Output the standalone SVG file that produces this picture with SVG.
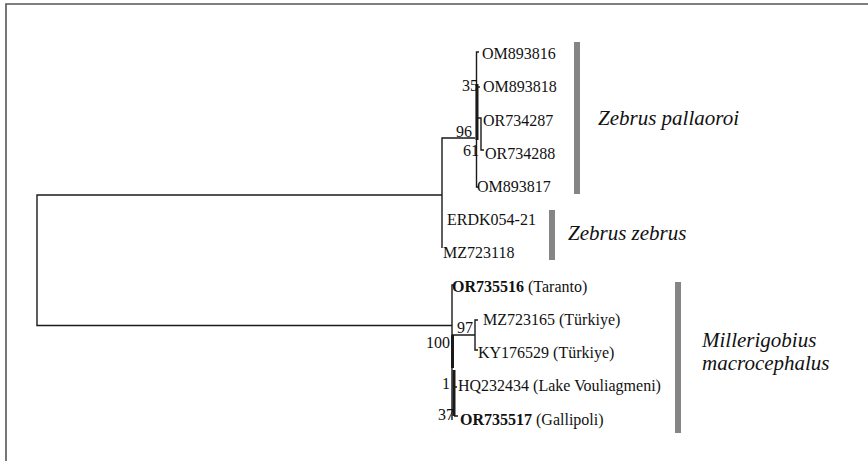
<svg xmlns="http://www.w3.org/2000/svg" width="868" height="461" viewBox="0 0 868 461">
<style>
.frame{stroke:#555;stroke-width:1.6;fill:none}
.br{stroke:#1a1a1a;stroke-width:1.4;fill:none}
.thick{stroke:#1a1a1a;stroke-width:3;fill:none}
.bar{fill:#858585}
.lf{font-family:"Liberation Serif","Times New Roman",serif;font-size:16px;fill:#111}
.bs{font-family:"Liberation Serif","Times New Roman",serif;font-size:16px;fill:#111;text-anchor:end}
.sp{font-family:"Liberation Serif","Times New Roman",serif;font-size:21px;font-style:italic;fill:#111}
</style>
<rect width="868" height="461" fill="#fff"/>
<path class="frame" d="M6,461 V4 H868"/>
<g id="connectors">
<path class="br" d="M442,195 H37 V325.5 H452"/>
<path class="br" d="M442,248 V138 H475"/>
<path class="br" d="M479,52 H476.5 V187 H479"/>
<path class="thick" d="M477,84 V140"/>
<path class="br" d="M476.5,87 H480"/>
<path class="br" d="M478,118 H481 V150 H484"/>
<path class="br" d="M455,285 H452 V420"/>
<path class="thick" d="M452.5,335 V368"/>
<path class="thick" d="M454,370 V416"/>
<path class="br" d="M452,335 H475 M478,320 H475 V350 H478"/>
<path class="br" d="M454,387 H457 M454,416 H458"/>
</g>
<g id="leaves">
<text class="lf" x="482" y="59">OM893816</text>
<text class="lf" x="483" y="92">OM893818</text>
<text class="lf" x="483" y="125.5">OR734287</text>
<text class="lf" x="485" y="158.5">OR734288</text>
<text class="lf" x="477" y="191.5">OM893817</text>
<text class="lf" x="447" y="225">ERDK054-21</text>
<text class="lf" x="443" y="258">MZ723118</text>
<text class="lf" x="452" y="291.5"><tspan font-weight="bold">OR735516</tspan> (Taranto)</text>
<text class="lf" x="483" y="325">MZ723165 (Türkiye)</text>
<text class="lf" x="478" y="358">KY176529 (Türkiye)</text>
<text class="lf" x="458" y="391">HQ232434 (Lake Vouliagmeni)</text>
<text class="lf" x="460" y="424.5"><tspan font-weight="bold">OR735517</tspan> (Gallipoli)</text>
</g>
<g id="support">
<text class="bs" x="478" y="91">35</text>
<text class="bs" x="472" y="137">96</text>
<text class="bs" x="479" y="155.5">61</text>
<text class="bs" x="473" y="333">97</text>
<text class="bs" x="450" y="348">100</text>
<text class="bs" x="450" y="389">1</text>
<text class="bs" x="454" y="420">37</text>
</g>
<g id="clade-pallaoroi">
<rect class="bar" x="574" y="42" width="6" height="152"/>
<text class="sp" x="598" y="125">Zebrus pallaoroi</text>
</g>
<g id="clade-zebrus">
<rect class="bar" x="549" y="210" width="6" height="50"/>
<text class="sp" x="568" y="240">Zebrus zebrus</text>
</g>
<g id="clade-millerigobius">
<rect class="bar" x="675" y="282" width="6" height="151"/>
<text class="sp" x="702" y="347">Millerigobius</text>
<text class="sp" x="702" y="370">macrocephalus</text>
</g>
</svg>
